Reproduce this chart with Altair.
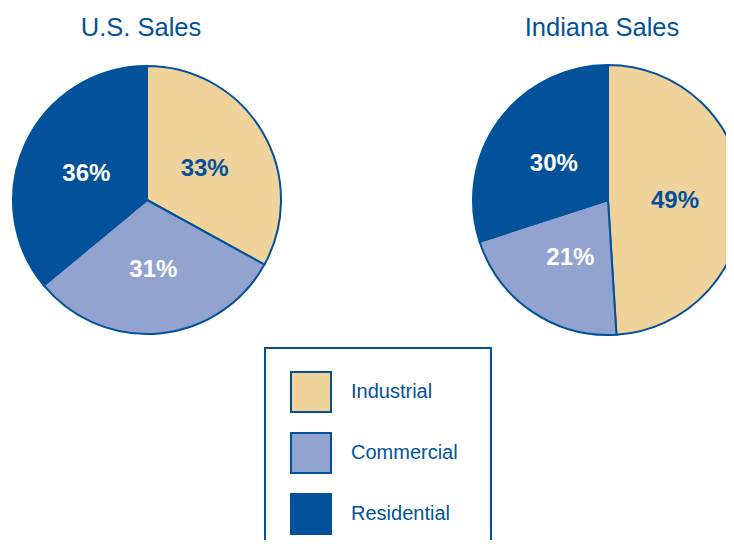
import altair as alt
import pandas as pd

BLUE = "#02529B"

categories = ["Industrial", "Commercial", "Residential"]
colors = ["#EFD39B", "#92A3CF", "#02529B"]
us_share = [33, 31, 36]
indiana_share = [49, 21, 30]
titles = ["U.S. Sales", "Indiana Sales"]

rows = []
for region, shares in (("U.S.", us_share), ("Indiana", indiana_share)):
    for i, (c, s) in enumerate(zip(categories, shares)):
        rows.append({"region": region, "category": c, "share": s, "ord": i})
df = pd.DataFrame(rows)

color_scale = alt.Scale(domain=categories, range=colors)
legend = alt.Legend(
    orient="none", legendX=282, legendY=363, direction="vertical", title=None,
    symbolType="square", symbolSize=1600, symbolStrokeColor=BLUE, symbolStrokeWidth=2,
    symbolOpacity=1, labelFontSize=20, labelFont="Liberation Sans", labelColor=BLUE,
    labelOffset=19, rowPadding=13, padding=0,
)

base = alt.Chart(df)


def pie(region, title, cx, cy, r):
    data = base.transform_filter(alt.datum.region == region)
    arc = data.mark_arc(radius=r, stroke=BLUE, strokeWidth=2).encode(
        theta=alt.Theta("share:Q", stack=True),
        color=alt.Color("category:N", scale=color_scale, legend=legend),
        order=alt.Order("ord:Q"),
        x=alt.value(cx), y=alt.value(cy),
    )
    txt = data.transform_calculate(label="datum.share + '%'").mark_text(
        radius=67, fontSize=24, fontWeight="bold", font="Liberation Sans",
        align="center", baseline="middle", dy=3,
    ).encode(
        theta=alt.Theta("share:Q", stack=True),
        order=alt.Order("ord:Q"),
        text="label:N",
        color=alt.condition(alt.datum.category == "Industrial", alt.value(BLUE), alt.value("white")),
        x=alt.value(cx), y=alt.value(cy),
    )
    ttl = base.transform_filter(
        (alt.datum.region == region) & (alt.datum.ord == 0)
    ).mark_text(
        text=title, fontSize=25.5, font="Liberation Sans", color=BLUE,
        align="center", baseline="middle",
    ).encode(x=alt.value(cx - 6), y=alt.value(20))
    return [arc, txt, ttl]


frame = alt.Chart(pd.DataFrame({"a": [0]})).mark_rect(
    fill="white", stroke=BLUE, strokeWidth=2
).encode(x=alt.value(257), x2=alt.value(483), y=alt.value(340), y2=alt.value(600))

layers = [frame] + pie("U.S.", titles[0], 139, 192, 134) + pie("Indiana", titles[1], 600, 192, 135)

chart = alt.layer(*layers).properties(
    width=718, height=532, autosize=alt.AutoSizeParams(type="none"), padding=0,
    view=alt.ViewBackground(strokeWidth=0, stroke="transparent"),
).configure_view(strokeWidth=0, stroke="transparent")

chart.save("out.html", embed_options={"renderer": "svg", "actions": False})
